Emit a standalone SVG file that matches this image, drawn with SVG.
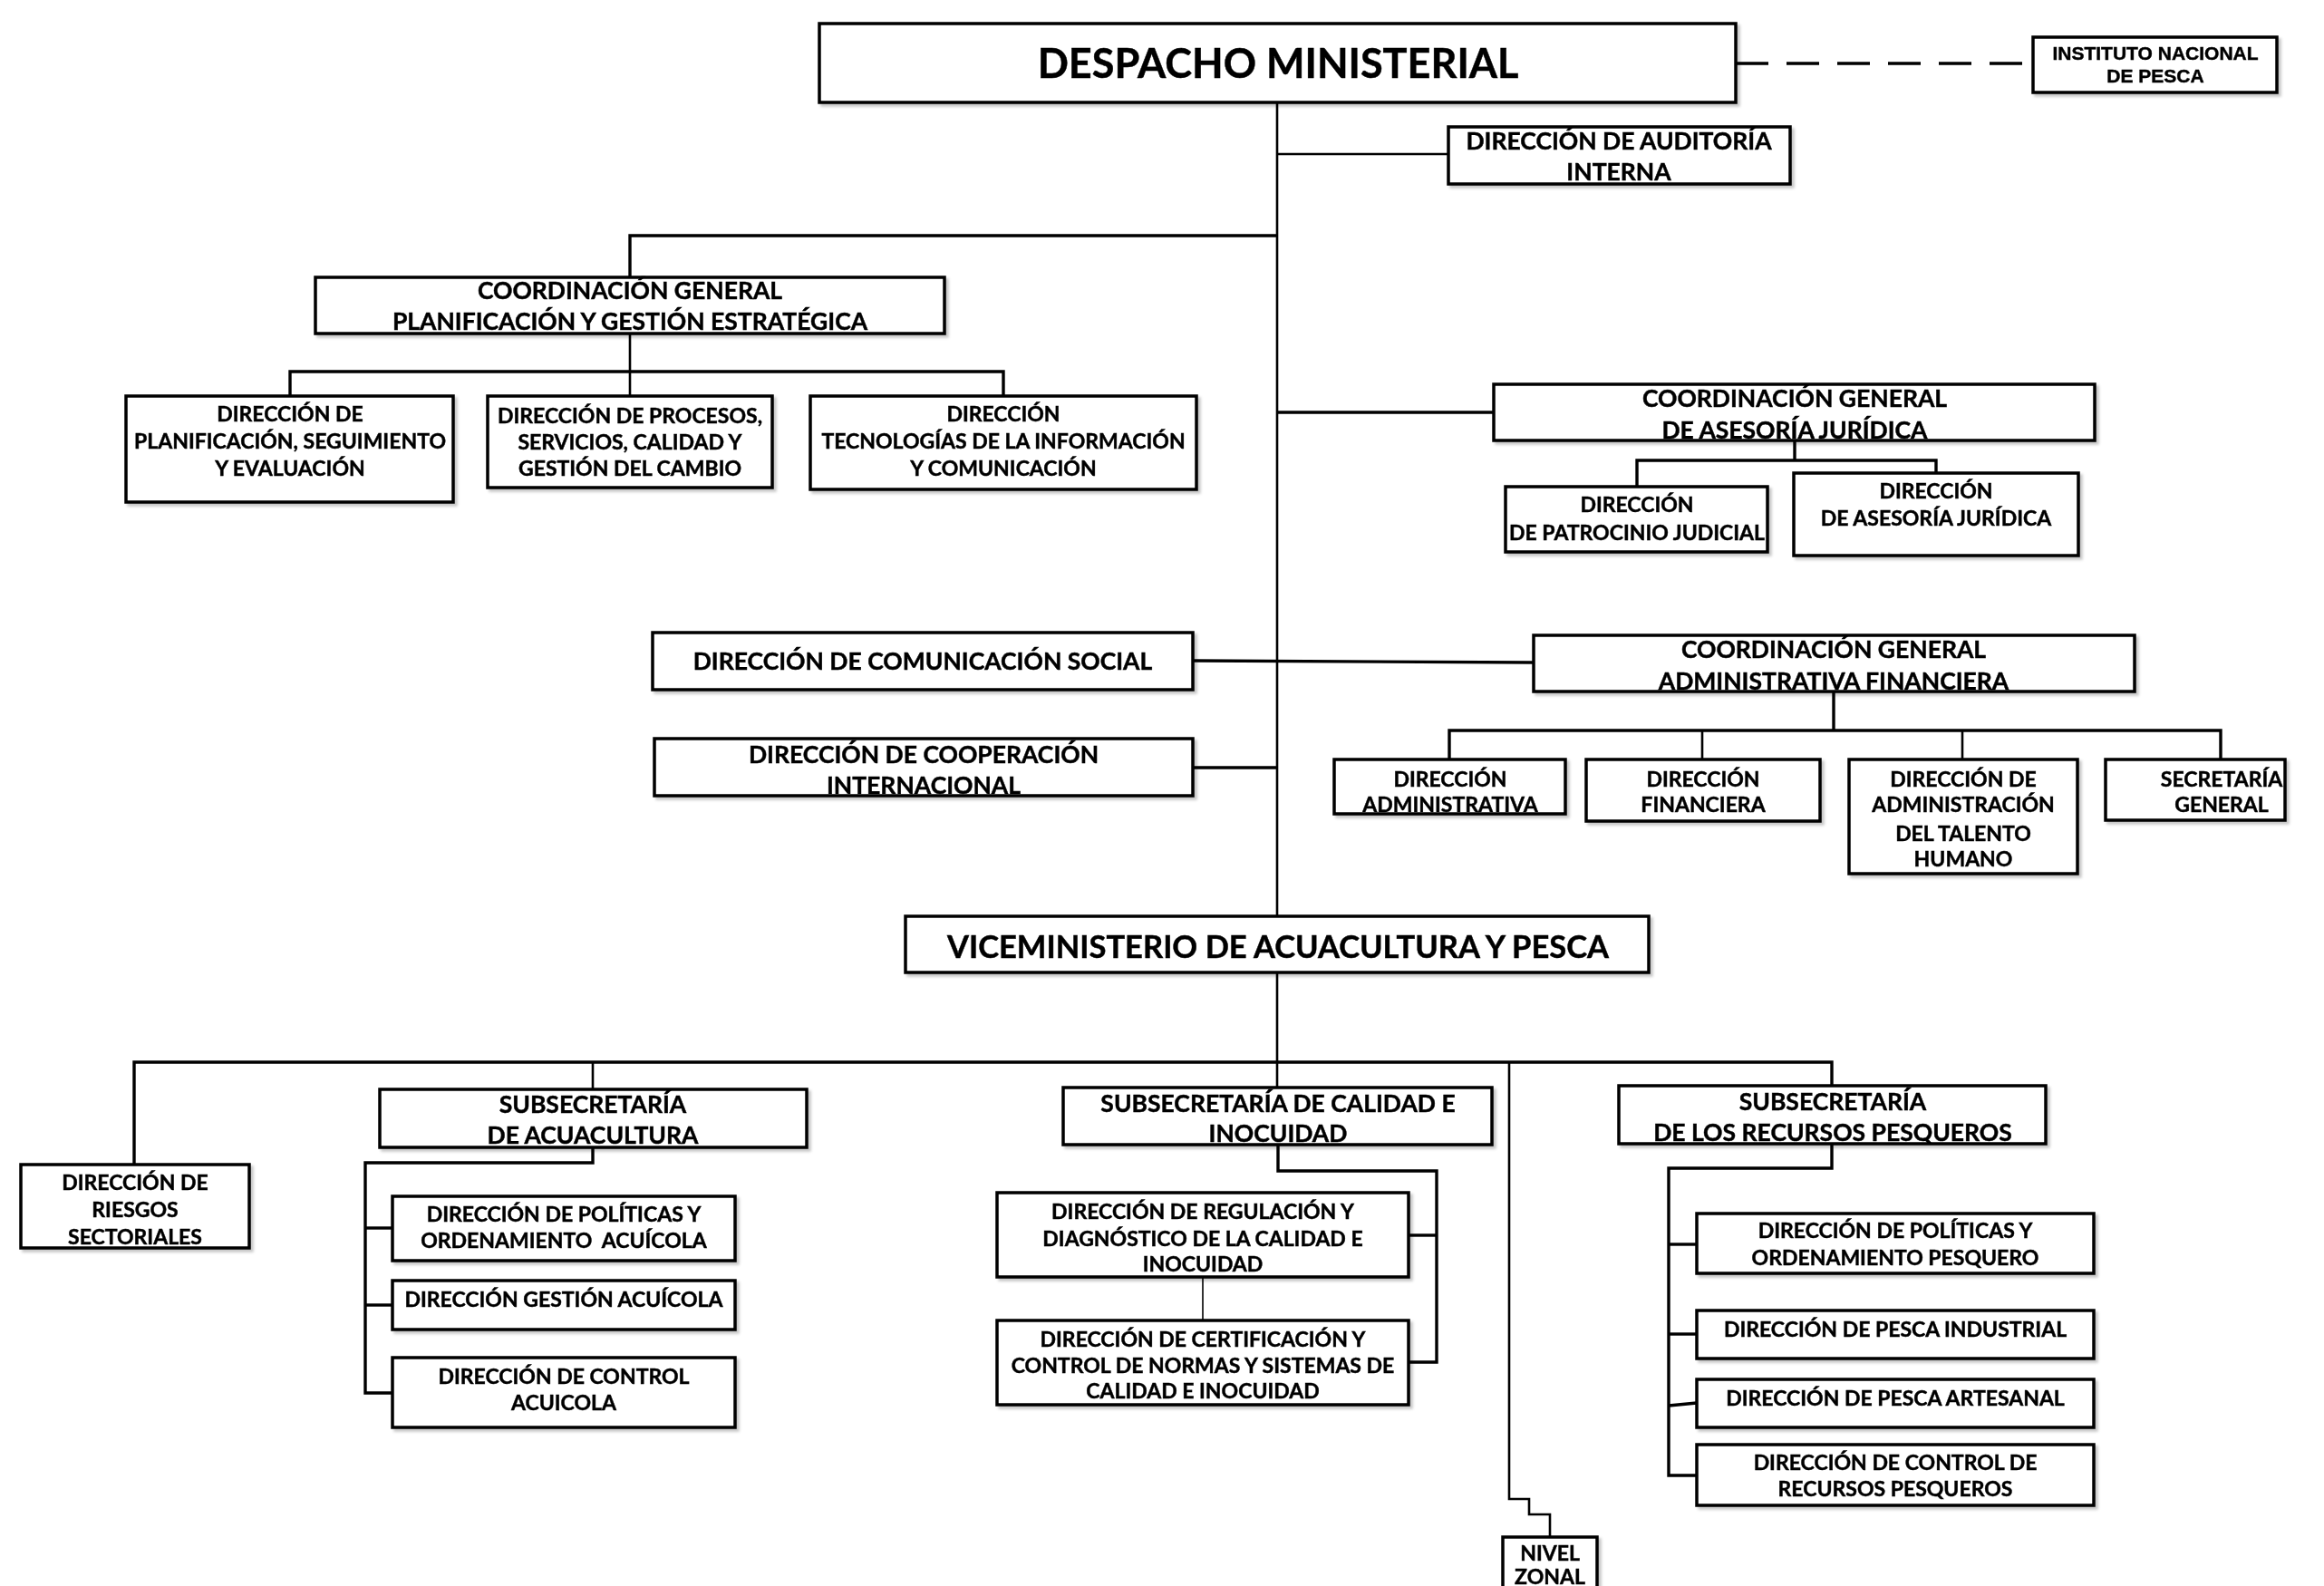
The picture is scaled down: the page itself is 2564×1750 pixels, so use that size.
<svg xmlns="http://www.w3.org/2000/svg" width="2564" height="1750" viewBox="0 0 2564 1750">
<style>
  .bg{fill:#fff}
  .n rect{fill:#fff;stroke:#000;stroke-width:3.5}
  .n text{font-family:Lato,"Open Sans",sans-serif;font-weight:700;fill:#000;stroke:#000;stroke-width:0.45;text-anchor:middle}
  .s{font-size:23px}
  .m{font-size:26.5px}
  .v{font-size:34.5px}
  .xl{font-size:45px}
  .ar{font-family:"Liberation Sans",Arial,sans-serif !important;font-size:21px}
  .c{fill:none;stroke:#000;stroke-width:2.6}
  .cb{fill:none;stroke:#000;stroke-width:3.4}
  .d{fill:none;stroke:#000;stroke-width:3.6;stroke-dasharray:36 20}
  .n{filter:url(#sh)}
</style>
<defs>
  <filter id="sh" x="-5%" y="-10%" width="115%" height="130%">
    <feDropShadow dx="3" dy="3" stdDeviation="1.5" flood-color="#000" flood-opacity="0.22"/>
  </filter>
</defs>
<rect class="bg" x="0" y="0" width="2564" height="1750"/>

<g id="connectors">
  <path class="c" d="M1409 113 V1011"/>
  <path class="d" d="M1915 70 H2243"/>
  <path class="c" d="M1409 170 H1598"/>
  <path class="cb" d="M1409 260 H695 V306"/>
  <path class="c" d="M695 368 V437"/>
  <path class="cb" d="M320 437 V410 H1107 V437"/>
  <path class="cb" d="M1409 455 H1648"/>
  <path class="cb" d="M1980 486 V508"/>
  <path class="cb" d="M1806 537 V508 H2136 V522"/>
  <path class="cb" d="M1316 729 L1692 731"/>
  <path class="cb" d="M1316 847 H1409"/>
  <path class="cb" d="M2023 763 V806"/>
  <path class="cb" d="M1599 838 V806 H2450 V838"/>
  <path class="c" d="M1878 806 V838"/>
  <path class="c" d="M2165 806 V838"/>
  <path class="c" d="M1409 1073 V1200"/>
  <path class="cb" d="M148 1285 V1172 H2021 V1198"/>
  <path class="c" d="M654 1172 V1202"/>
  <path class="c" d="M1665 1172 V1654 H1687 V1671 H1710 V1696"/>
  <path class="cb" d="M654 1266 V1283 H403 V1537 H433"/>
  <path class="cb" d="M403 1355 H433"/>
  <path class="cb" d="M403 1440 H433"/>
  <path class="cb" d="M1410 1263 V1292 H1585 V1503 H1554"/>
  <path class="cb" d="M1585 1363 H1554"/>
  <path class="c" d="M1327 1409 V1457" style="stroke-width:1.6"/>
  <path class="cb" d="M2021 1262 V1289 H1841 V1628 H1872"/>
  <path class="cb" d="M1841 1373 H1872"/>
  <path class="cb" d="M1841 1472 H1872"/>
  <path class="cb" d="M1841 1551 L1872 1548"/>
</g>

<g id="despacho" class="n">
  <rect x="904" y="26" width="1011" height="87"/>
  <text class="xl" x="1410" y="86">DESPACHO MINISTERIAL</text>
</g>
<g id="instituto" class="n">
  <rect x="2243" y="41" width="269" height="61"/>
  <text class="ar" x="2378" y="66">INSTITUTO NACIONAL</text>
  <text class="ar" x="2378" y="91">DE PESCA</text>
</g>
<g id="auditoria" class="n">
  <rect x="1598" y="140" width="377" height="63"/>
  <text class="m" x="1786" y="165">DIRECCIÓN DE AUDITORÍA</text>
  <text class="m" x="1786" y="199">INTERNA</text>
</g>
<g id="coord-planificacion" class="n">
  <rect x="348" y="306" width="694" height="62"/>
  <text class="m" x="695" y="330">COORDINACIÓN GENERAL</text>
  <text class="m" x="695" y="364">PLANIFICACIÓN Y GESTIÓN ESTRATÉGICA</text>
</g>
<g id="dir-planificacion" class="n">
  <rect x="139" y="437" width="361" height="117"/>
  <text class="s" x="320" y="465">DIRECCIÓN DE</text>
  <text class="s" x="320" y="495">PLANIFICACIÓN, SEGUIMIENTO</text>
  <text class="s" x="320" y="525">Y EVALUACIÓN</text>
</g>
<g id="dir-procesos" class="n">
  <rect x="538" y="437" width="314" height="101"/>
  <text class="s" x="695" y="467">DIRECCIÓN DE PROCESOS,</text>
  <text class="s" x="695" y="496">SERVICIOS, CALIDAD Y</text>
  <text class="s" x="695" y="525">GESTIÓN DEL CAMBIO</text>
</g>
<g id="dir-tics" class="n">
  <rect x="894" y="437" width="426" height="103"/>
  <text class="s" x="1107" y="465">DIRECCIÓN</text>
  <text class="s" x="1107" y="495">TECNOLOGÍAS DE LA INFORMACIÓN</text>
  <text class="s" x="1107" y="525">Y COMUNICACIÓN</text>
</g>
<g id="coord-asesoria" class="n">
  <rect x="1648" y="424" width="663" height="62"/>
  <text class="m" x="1980" y="449">COORDINACIÓN GENERAL</text>
  <text class="m" x="1980" y="484">DE ASESORÍA JURÍDICA</text>
</g>
<g id="dir-patrocinio" class="n">
  <rect x="1661" y="537" width="289" height="72"/>
  <text class="s" x="1806" y="565">DIRECCIÓN</text>
  <text class="s" x="1806" y="596">DE PATROCINIO JUDICIAL</text>
</g>
<g id="dir-asesoria" class="n">
  <rect x="1979" y="522" width="314" height="91"/>
  <text class="s" x="2136" y="550">DIRECCIÓN</text>
  <text class="s" x="2136" y="580">DE ASESORÍA JURÍDICA</text>
</g>
<g id="dir-comunicacion" class="n">
  <rect x="720" y="698" width="596" height="63"/>
  <text class="m" x="1018" y="739">DIRECCIÓN DE COMUNICACIÓN SOCIAL</text>
</g>
<g id="dir-cooperacion" class="n">
  <rect x="722" y="815" width="594" height="63"/>
  <text class="m" x="1019" y="842">DIRECCIÓN DE COOPERACIÓN</text>
  <text class="m" x="1019" y="876">INTERNACIONAL</text>
</g>
<g id="coord-administrativa" class="n">
  <rect x="1692" y="701" width="663" height="62"/>
  <text class="m" x="2023" y="726">COORDINACIÓN GENERAL</text>
  <text class="m" x="2023" y="761">ADMINISTRATIVA FINANCIERA</text>
</g>
<g id="dir-administrativa" class="n">
  <rect x="1472" y="838" width="255" height="60"/>
  <text class="s" x="1600" y="868">DIRECCIÓN</text>
  <text class="s" x="1600" y="896">ADMINISTRATIVA</text>
</g>
<g id="dir-financiera" class="n">
  <rect x="1750" y="838" width="258" height="68"/>
  <text class="s" x="1879" y="868">DIRECCIÓN</text>
  <text class="s" x="1879" y="896">FINANCIERA</text>
</g>
<g id="dir-talento" class="n">
  <rect x="2040" y="838" width="252" height="126"/>
  <text class="s" x="2166" y="868">DIRECCIÓN DE</text>
  <text class="s" x="2166" y="896">ADMINISTRACIÓN</text>
  <text class="s" x="2166" y="928">DEL TALENTO</text>
  <text class="s" x="2166" y="956">HUMANO</text>
</g>
<g id="secretaria" class="n">
  <rect x="2323" y="838" width="198" height="67"/>
  <text class="s" x="2451" y="868">SECRETARÍA</text>
  <text class="s" x="2451" y="896">GENERAL</text>
</g>
<g id="viceministerio" class="n">
  <rect x="999" y="1011" width="820" height="62"/>
  <text class="v" x="1410" y="1057">VICEMINISTERIO DE ACUACULTURA Y PESCA</text>
</g>
<g id="dir-riesgos" class="n">
  <rect x="23" y="1285" width="252" height="92"/>
  <text class="s" x="149" y="1313">DIRECCIÓN DE</text>
  <text class="s" x="149" y="1343">RIESGOS</text>
  <text class="s" x="149" y="1373">SECTORIALES</text>
</g>
<g id="subsec-acuacultura" class="n">
  <rect x="419" y="1202" width="471" height="64"/>
  <text class="m" x="654" y="1228">SUBSECRETARÍA</text>
  <text class="m" x="654" y="1262">DE ACUACULTURA</text>
</g>
<g id="dir-politicas-acuicola" class="n">
  <rect x="433" y="1320" width="378" height="71"/>
  <text class="s" x="622" y="1348">DIRECCIÓN DE POLÍTICAS Y</text>
  <text class="s" x="622" y="1377" style="white-space:pre">ORDENAMIENTO  ACUÍCOLA</text>
</g>
<g id="dir-gestion-acuicola" class="n">
  <rect x="433" y="1413" width="378" height="54"/>
  <text class="s" x="622" y="1442">DIRECCIÓN GESTIÓN ACUÍCOLA</text>
</g>
<g id="dir-control-acuicola" class="n">
  <rect x="433" y="1498" width="378" height="77"/>
  <text class="s" x="622" y="1527">DIRECCIÓN DE CONTROL</text>
  <text class="s" x="622" y="1556">ACUICOLA</text>
</g>
<g id="subsec-calidad" class="n">
  <rect x="1173" y="1200" width="473" height="63"/>
  <text class="m" x="1410" y="1227">SUBSECRETARÍA DE CALIDAD E</text>
  <text class="m" x="1410" y="1260">INOCUIDAD</text>
</g>
<g id="dir-regulacion" class="n">
  <rect x="1100" y="1316" width="454" height="93"/>
  <text class="s" x="1327" y="1345">DIRECCIÓN DE REGULACIÓN Y</text>
  <text class="s" x="1327" y="1375">DIAGNÓSTICO DE LA CALIDAD E</text>
  <text class="s" x="1327" y="1403">INOCUIDAD</text>
</g>
<g id="dir-certificacion" class="n">
  <rect x="1100" y="1457" width="454" height="93"/>
  <text class="s" x="1327" y="1486">DIRECCIÓN DE CERTIFICACIÓN Y</text>
  <text class="s" x="1327" y="1515">CONTROL DE NORMAS Y SISTEMAS DE</text>
  <text class="s" x="1327" y="1543">CALIDAD E INOCUIDAD</text>
</g>
<g id="subsec-recursos" class="n">
  <rect x="1786" y="1198" width="471" height="64"/>
  <text class="m" x="2022" y="1225">SUBSECRETARÍA</text>
  <text class="m" x="2022" y="1259">DE LOS RECURSOS PESQUEROS</text>
</g>
<g id="dir-politicas-pesquero" class="n">
  <rect x="1872" y="1339" width="438" height="66"/>
  <text class="s" x="2091" y="1366">DIRECCIÓN DE POLÍTICAS Y</text>
  <text class="s" x="2091" y="1396">ORDENAMIENTO PESQUERO</text>
</g>
<g id="dir-pesca-industrial" class="n">
  <rect x="1872" y="1446" width="438" height="53"/>
  <text class="s" x="2091" y="1475">DIRECCIÓN DE PESCA INDUSTRIAL</text>
</g>
<g id="dir-pesca-artesanal" class="n">
  <rect x="1872" y="1522" width="438" height="53"/>
  <text class="s" x="2091" y="1551">DIRECCIÓN DE PESCA ARTESANAL</text>
</g>
<g id="dir-control-recursos" class="n">
  <rect x="1872" y="1594" width="438" height="67"/>
  <text class="s" x="2091" y="1622">DIRECCIÓN DE CONTROL DE</text>
  <text class="s" x="2091" y="1651">RECURSOS PESQUEROS</text>
</g>
<g id="nivel-zonal" class="n">
  <rect x="1658" y="1696" width="104" height="80"/>
  <text class="s" x="1710" y="1722">NIVEL</text>
  <text class="s" x="1710" y="1748">ZONAL</text>
</g>
</svg>
